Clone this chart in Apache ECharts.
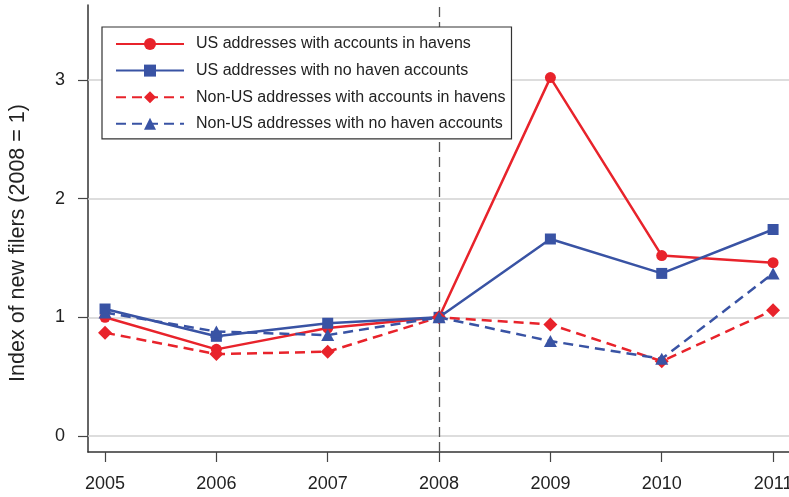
<!DOCTYPE html>
<html>
<head>
<meta charset="utf-8">
<script src="https://cdn.jsdelivr.net/npm/echarts@6/dist/echarts.min.js"></script>
<style>
  html, body { margin: 0; padding: 0; background: #fff; overflow: hidden; }
  #chart { width: 789px; height: 497px; }
</style>
</head>
<body>
<div id="chart"></div>
<script>
// Years on the x axis
const years = [2005, 2006, 2007, 2008, 2009, 2010, 2011];
// Index of new filers, 2008 = 1
const usHavens = [1.00, 0.73, 0.91, 1.00, 3.02, 1.52, 1.46];
const usNoHaven = [1.07, 0.84, 0.95, 1.00, 1.66, 1.37, 1.74];
const nonUsHavens = [0.87, 0.69, 0.71, 1.00, 0.94, 0.63, 1.06];
const nonUsNoHaven = [1.04, 0.88, 0.85, 1.00, 0.80, 0.65, 1.37];
// Tick values
const yTicks = [0, 1, 2, 3];
const xTicks = years;
// Reference year marked with a dashed rule
const refYear = 2008;

const seriesNames = [
  'US addresses with accounts in havens',
  'US addresses with no haven accounts',
  'Non-US addresses with accounts in havens',
  'Non-US addresses with no haven accounts'
];

const RED = '#e8232b';
const BLUE = '#3953a4';
const FONT = '"Liberation Sans", Arial, Helvetica, sans-serif';

function pairs(vals) {
  return years.map((y, i) => [y, vals[i]]);
}

function lineSeries(name, vals, color, dashed, symbol, size, z) {
  return {
    name: name,
    type: 'line',
    data: pairs(vals),
    symbol: symbol,
    symbolSize: size,
    showSymbol: true,
    z: z,
    itemStyle: { color: color },
    lineStyle: { color: color, width: 2.5, type: dashed ? [10, 6] : 'solid' },
    emphasis: { disabled: true },
    animation: false
  };
}

const chart = echarts.init(document.getElementById('chart'), null, { renderer: 'canvas', width: 789, height: 497 });

chart.setOption({
  backgroundColor: '#ffffff',
  animation: false,
  grid: { left: 88, right: 0, top: 5, bottom: 45, containLabel: false, outerBoundsMode: 'none' },
  xAxis: {
    type: 'value',
    min: 2004.847,
    max: 2011.143,
    axisLine: { show: true, onZero: false, lineStyle: { color: '#333', width: 1.5 } },
    axisTick: { show: true, customValues: xTicks, length: 10, lineStyle: { color: '#444', width: 1.2 } },
    axisLabel: {
      customValues: xTicks,
      formatter: v => String(Math.round(v)),
      fontSize: 18, color: '#222', fontFamily: FONT, margin: 23
    },
    splitLine: { show: false }
  },
  yAxis: {
    type: 'value',
    min: -0.135,
    max: 3.632,
    axisLine: { show: true, onZero: false, lineStyle: { color: '#333', width: 1.5 } },
    axisTick: { show: true, customValues: yTicks, length: 10, lineStyle: { color: '#444', width: 1.2 } },
    axisLabel: {
      customValues: yTicks,
      formatter: v => String(Math.round(v)),
      fontSize: 18, color: '#222', fontFamily: FONT, margin: 23
    },
    splitLine: { show: false }
  },
  legend: {
    data: seriesNames,
    orient: 'vertical',
    left: 102,
    top: 27,
    padding: [9, 6, 7, 13],
    itemWidth: 68,
    itemHeight: 15,
    itemGap: 10.6,
    borderColor: '#333',
    borderWidth: 1.2,
    borderRadius: 0,
    backgroundColor: '#ffffff',
    selectedMode: false,
    textStyle: { fontSize: 16, color: '#222', fontFamily: FONT, lineHeight: 15, padding: [0, 0, 0, 7] }
  },
  graphic: [{
    type: 'text',
    x: 18,
    y: 243,
    rotation: Math.PI / 2,
    style: {
      text: 'Index of new filers (2008 = 1)',
      fontSize: 21.5,
      fontFamily: FONT,
      fill: '#222',
      align: 'center',
      verticalAlign: 'middle'
    }
  }],
  series: [
    {
      name: 'frame',
      type: 'line',
      data: [],
      z: 1,
      silent: true,
      markLine: {
        silent: true,
        z: 1,
        symbol: ['none', 'none'],
        label: { show: false },
        animation: false,
        data: yTicks.map(v => ({ yAxis: v, lineStyle: { color: '#d2d2d2', width: 1.5, type: 'solid' } }))
          .concat([{ xAxis: refYear, lineStyle: { color: '#555', width: 1.3, type: [10, 5] } }])
      }
    },
    lineSeries(seriesNames[0], usHavens, RED, false, 'circle', 11, 3),
    lineSeries(seriesNames[1], usNoHaven, BLUE, false, 'rect', 11, 4),
    lineSeries(seriesNames[2], nonUsHavens, RED, true, 'diamond', [14, 14], 5),
    lineSeries(seriesNames[3], nonUsNoHaven, BLUE, true, 'triangle', [13, 12], 6)
  ]
});
</script>
</body>
</html>
